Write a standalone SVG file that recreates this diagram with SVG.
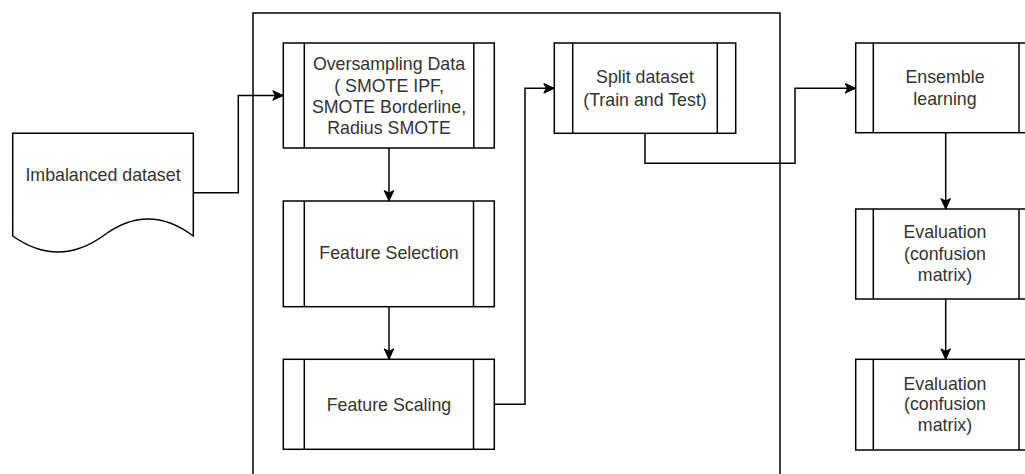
<svg xmlns="http://www.w3.org/2000/svg" width="1025" height="474" viewBox="0 0 1025 474">
  <defs>
    <style>
      .shape { fill: #ffffff; stroke: #000000; stroke-width: 1.5; }
      .bar { fill: none; stroke: #000000; stroke-width: 1.5; }
      .edge { fill: none; stroke: #000000; stroke-width: 1.5; }
      .label { font-family: "Liberation Sans", Arial, sans-serif; font-size: 17.8px; fill: #333333; text-anchor: middle; }
    </style>
    <marker id="arrow" markerUnits="userSpaceOnUse" markerWidth="12" markerHeight="12" viewBox="0 0 12 12" refX="11" refY="6" orient="auto">
      <path d="M0.5,1.2 L11,6 L0.5,10.8 L3,6 Z" fill="#000000" stroke="#000000" stroke-width="1"/>
    </marker>
  </defs>

  <rect width="1025" height="474" fill="#ffffff"/>

  <!-- outer container for the preprocessing steps -->
  <g id="container">
    <rect class="shape" x="253" y="13" width="527" height="500"/>
  </g>

  <!-- input document -->
  <g id="imbalanced-dataset">
    <path class="shape" d="M12.7,133.3 H193.3 V236 Q148,202 103,236 Q58,268 12.7,236 Z"/>
    <text class="label" x="103" y="180.7">Imbalanced dataset</text>
  </g>

  <g id="oversampling">
    <rect class="shape" x="283.3" y="43" width="211" height="105"/>
    <line class="bar" x1="304.3" y1="43" x2="304.3" y2="148"/>
    <line class="bar" x1="473.8" y1="43" x2="473.8" y2="148"/>
    <text class="label" x="389" y="70.4">Oversampling Data</text>
    <text class="label" x="389" y="92.4">( SMOTE IPF,</text>
    <text class="label" x="389" y="113.4">SMOTE Borderline,</text>
    <text class="label" x="389" y="134.4">Radius SMOTE</text>
  </g>

  <g id="feature-selection">
    <rect class="shape" x="283.3" y="201" width="211" height="105.7"/>
    <line class="bar" x1="304.3" y1="201" x2="304.3" y2="306.7"/>
    <line class="bar" x1="473.5" y1="201" x2="473.5" y2="306.7"/>
    <text class="label" x="389" y="259">Feature Selection</text>
  </g>

  <g id="feature-scaling">
    <rect class="shape" x="283.3" y="359.3" width="211" height="90"/>
    <line class="bar" x1="304.3" y1="359.3" x2="304.3" y2="449.3"/>
    <line class="bar" x1="473.5" y1="359.3" x2="473.5" y2="449.3"/>
    <text class="label" x="389" y="410.5">Feature Scaling</text>
  </g>

  <g id="split-dataset">
    <rect class="shape" x="554.3" y="43" width="181.4" height="90.3"/>
    <line class="bar" x1="572.7" y1="43" x2="572.7" y2="133.3"/>
    <line class="bar" x1="717.3" y1="43" x2="717.3" y2="133.3"/>
    <text class="label" x="645" y="83.4">Split dataset</text>
    <text class="label" x="645" y="106">(Train and Test)</text>
  </g>

  <g id="ensemble-learning">
    <rect class="shape" x="855.7" y="43" width="180" height="89.7"/>
    <line class="bar" x1="873.3" y1="43" x2="873.3" y2="132.7"/>
    <line class="bar" x1="1019" y1="43" x2="1019" y2="132.7"/>
    <text class="label" x="945" y="83">Ensemble</text>
    <text class="label" x="945" y="105.4">learning</text>
  </g>

  <g id="evaluation-1">
    <rect class="shape" x="855.7" y="209" width="180" height="90"/>
    <line class="bar" x1="873.3" y1="209" x2="873.3" y2="299"/>
    <line class="bar" x1="1019" y1="209" x2="1019" y2="299"/>
    <text class="label" x="945" y="238">Evaluation</text>
    <text class="label" x="945" y="259.6">(confusion</text>
    <text class="label" x="945" y="281.3">matrix)</text>
  </g>

  <g id="evaluation-2">
    <rect class="shape" x="855.7" y="359.3" width="180" height="90.7"/>
    <line class="bar" x1="873.3" y1="359.3" x2="873.3" y2="450"/>
    <line class="bar" x1="1019" y1="359.3" x2="1019" y2="450"/>
    <text class="label" x="945" y="389.6">Evaluation</text>
    <text class="label" x="945" y="410.3">(confusion</text>
    <text class="label" x="945" y="431.3">matrix)</text>
  </g>

  <!-- connectors -->
  <g id="connectors">
    <path class="edge" d="M193.3,192.7 H238.3 V95.5 H283.3" marker-end="url(#arrow)"/>
    <path class="edge" d="M389,148 V201" marker-end="url(#arrow)"/>
    <path class="edge" d="M389,306.7 V359.3" marker-end="url(#arrow)"/>
    <path class="edge" d="M494.3,404.3 H525 V88.3 H554.3" marker-end="url(#arrow)"/>
    <path class="edge" d="M645,133.3 V163.3 H795 V88.3 H855.7" marker-end="url(#arrow)"/>
    <path class="edge" d="M945.7,132.7 V209" marker-end="url(#arrow)"/>
    <path class="edge" d="M945.7,299 V359.3" marker-end="url(#arrow)"/>
  </g>
</svg>
